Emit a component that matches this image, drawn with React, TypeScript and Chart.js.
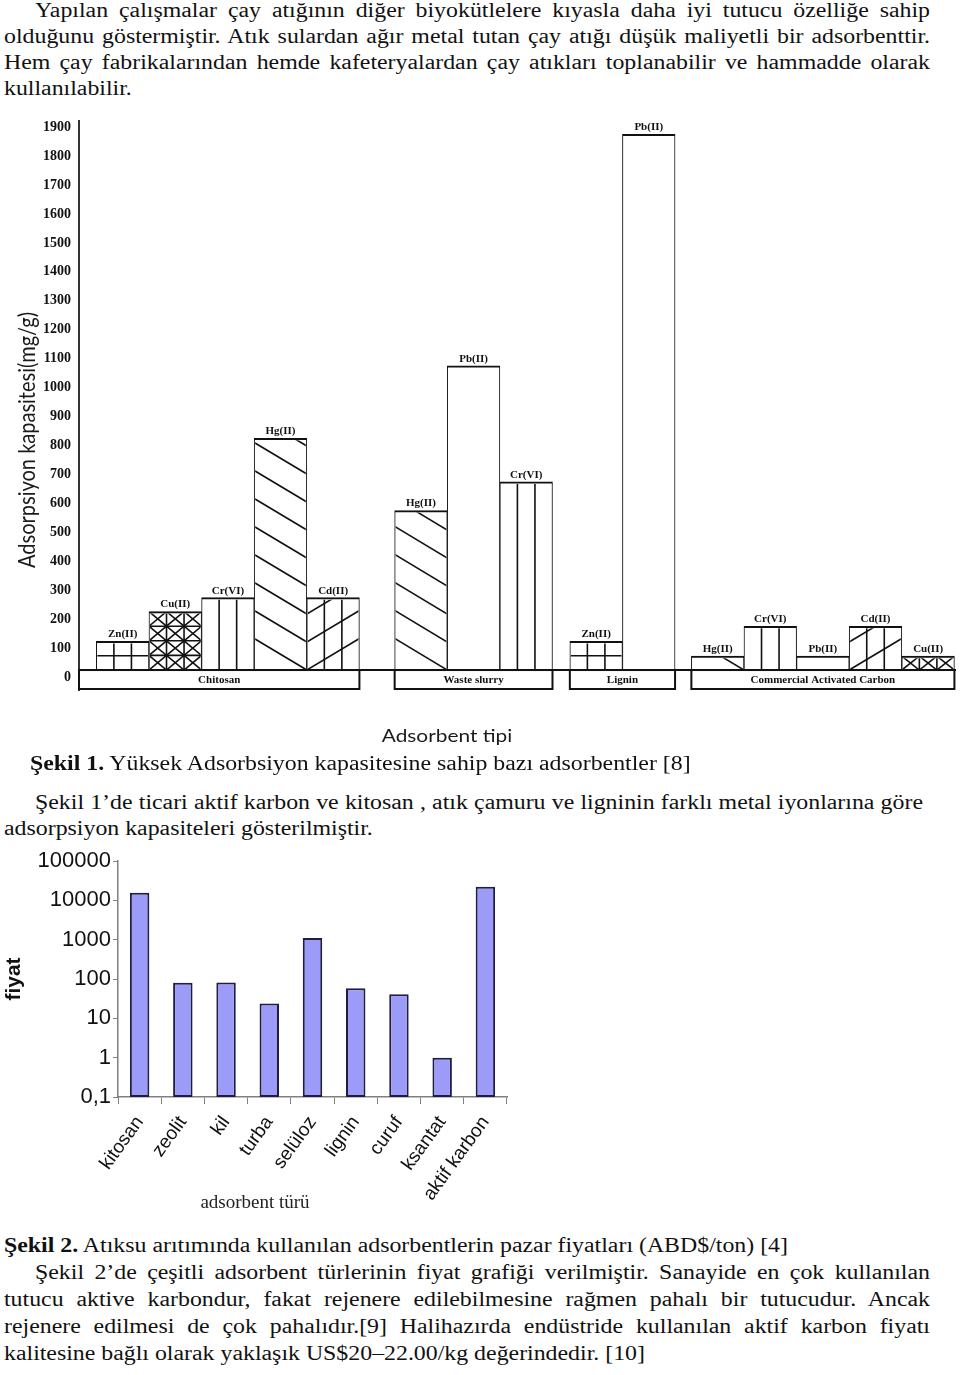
import React, { useEffect, useRef } from 'react';
import { Chart, registerables } from 'chart.js';

Chart.register(...registerables);

// ---------- Figure 1 data ----------
const GROUPS = ['Chitosan', 'Waste slurry', 'Lignin', 'Commercial Activated Carbon'];
const CHITOSAN_METALS = ['Zn(II)', 'Cu(II)', 'Cr(VI)', 'Hg(II)', 'Cd(II)'];
const CHITOSAN_VALUES = [123, 226, 274, 825, 274];
const SLURRY_METALS = ['Hg(II)', 'Pb(II)', 'Cr(VI)'];
const SLURRY_VALUES = [575, 1075, 674];
const LIGNIN_METALS = ['Zn(II)', 'Pb(II)'];
const LIGNIN_VALUES = [123, 1875];
const CARBON_METALS = ['Hg(II)', 'Cr(VI)', 'Pb(II)', 'Cd(II)', 'Cu(II)'];
const CARBON_VALUES = [72, 175, 72, 175, 72];
const Y1_TICKS = [0, 100, 200, 300, 400, 500, 600, 700, 800, 900, 1000, 1100, 1200, 1300, 1400, 1500, 1600, 1700, 1800, 1900];
const Y1_TITLE = 'Adsorpsiyon kapasitesi(mg/g)';
const X1_TITLE = 'Adsorbent tipi';

// ---------- Figure 2 data ----------
const ADSORBENTS = ['kitosan', 'zeolit', 'kil', 'turba', 'selüloz', 'lignin', 'curuf', 'ksantat', 'aktif karbon'];
const PRICES = [15500, 80, 82, 24, 1100, 58, 41, 1, 22000];
const Y2_TICKS = [0.1, 1, 10, 100, 1000, 10000, 100000];
const Y2_TICK_LABELS = ['0,1', '1', '10', '100', '1000', '10000', '100000'];
const Y2_TITLE = 'fiyat';
const X2_TITLE = 'adsorbent türü';

// ---------- layout constants (figure 1) ----------
const GROUP_GAPS = [0.33, 0.67, 0.33, 0.31]; // empty space before each group, in bar widths
const BASE_VALUE = 24; // axis value where the group boxes end and bars start
const Y1_MIN = -45;
const Y1_MAX = 1920;

const SERIF = '"Liberation Serif", "Times New Roman", serif';
const SANS = '"Liberation Sans", Arial, sans-serif';
const STRETCH = 1.19;

function drawHatch(ctx: CanvasRenderingContext2D, kind: string, l: number, t: number, r: number, b: number) {
  const w = r - l;
  const h = b - t;
  if (h <= 0) return;
  ctx.save();
  ctx.beginPath();
  ctx.rect(l + 1, t + 2, w - 2, h - 2);
  ctx.clip();
  ctx.strokeStyle = '#111';
  ctx.fillStyle = '#111';
  ctx.lineWidth = 1.6;
  const line = (x1: number, y1: number, x2: number, y2: number) => {
    ctx.beginPath();
    ctx.moveTo(x1, y1);
    ctx.lineTo(x2, y2);
    ctx.stroke();
  };
  const thirds = () => {
    line(l + w / 3, t, l + w / 3, b);
    line(l + (2 * w) / 3, t, l + (2 * w) / 3, b);
  };
  const s = 0.6;
  const d = 28;
  if (kind === 'Zn(II)') {
    thirds();
    const n = Math.max(1, Math.round(h / 14.5));
    for (let k = 1; k < n; k++) line(l, b - (k * h) / n, r, b - (k * h) / n);
  } else if (kind === 'Cu(II)') {
    thirds();
    const n = Math.max(1, Math.round(h / 14.7));
    const ch = h / n;
    for (let k = 1; k < n; k++) line(l, b - k * ch, r, b - k * ch);
    for (let row = 0; row < n; row++) {
      for (let c = 0; c < 3; c++) {
        const x1 = l + (c * w) / 3;
        const x2 = l + ((c + 1) * w) / 3;
        const y1 = b - (row + 1) * ch;
        const y2 = b - row * ch;
        line(x1, y1, x2, y2);
        line(x1, y2, x2, y1);
      }
    }
    for (let k = 1; k < n; k++) {
      for (let c = 1; c < 3; c++) {
        ctx.beginPath();
        ctx.arc(l + (c * w) / 3, b - k * ch, 1.6, 0, Math.PI * 2);
        ctx.fill();
      }
    }
  } else if (kind === 'Cr(VI)') {
    thirds();
  } else if (kind === 'Hg(II)') {
    const n = Math.ceil((h + s * w) / d) + 1;
    for (let k = 0; k <= n; k++) {
      const yEnd = b - k * d;
      line(l, yEnd - s * w, r, yEnd);
    }
  } else if (kind === 'Cd(II)') {
    thirds();
    const n = Math.ceil((h + s * w) / d) + 1;
    for (let k = 0; k <= n; k++) {
      const y0 = b - k * d;
      line(l, y0, r, y0 - s * w);
    }
  }
  ctx.restore();
}

function Figure1() {
  const ref = useRef<HTMLCanvasElement>(null);
  useEffect(() => {
    if (!ref.current) return;
    const groups = [
      { name: GROUPS[0], metals: CHITOSAN_METALS, values: CHITOSAN_VALUES },
      { name: GROUPS[1], metals: SLURRY_METALS, values: SLURRY_VALUES },
      { name: GROUPS[2], metals: LIGNIN_METALS, values: LIGNIN_VALUES },
      { name: GROUPS[3], metals: CARBON_METALS, values: CARBON_VALUES },
    ];
    const bars: { x: number; y: number; metal: string }[] = [];
    const boxes: { name: string; start: number; end: number }[] = [];
    let cursor = 0;
    groups.forEach((g, gi) => {
      cursor += GROUP_GAPS[gi];
      const start = gi === 0 ? 0 : cursor;
      g.metals.forEach((m, i) => {
        bars.push({ x: cursor + 0.5, y: g.values[i], metal: m });
        cursor += 1;
      });
      boxes.push({ name: g.name, start, end: cursor });
    });
    const xMax = cursor + 0.03;

    const decor = {
      id: 'fig1decor',
      afterDatasetsDraw(chart: any) {
        const ctx: CanvasRenderingContext2D = chart.ctx;
        const xs = chart.scales.x;
        const ys = chart.scales.y;
        const area = chart.chartArea;
        const yBase = ys.getPixelForValue(BASE_VALUE);
        const yBot = ys.getPixelForValue(Y1_MIN);
        ctx.save();
        ctx.strokeStyle = '#111';
        ctx.fillStyle = '#111';
        ctx.lineWidth = 2;
        ctx.font = `bold 11px ${SERIF}`;
        ctx.textAlign = 'center';
        ctx.textBaseline = 'middle';
        boxes.forEach((bx) => {
          const x1 = xs.getPixelForValue(bx.start);
          const x2 = xs.getPixelForValue(bx.end);
          ctx.strokeRect(x1, yBase, x2 - x1, yBot - yBase - 1);
          ctx.fillText(bx.name, (x1 + x2) / 2, (yBase + yBot) / 2);
        });
        ctx.beginPath();
        ctx.moveTo(area.left, yBase);
        ctx.lineTo(area.right, yBase);
        ctx.stroke();
        const meta = chart.getDatasetMeta(0);
        meta.data.forEach((el: any, i: number) => {
          const p = el.getProps(['x', 'y', 'base', 'width'], true);
          drawHatch(ctx, bars[i].metal, p.x - p.width / 2, p.y, p.x + p.width / 2, p.base);
          ctx.fillStyle = '#111';
          ctx.font = `bold 11px ${SERIF}`;
          ctx.textAlign = 'center';
          ctx.textBaseline = 'middle';
          ctx.fillText(bars[i].metal, p.x, p.y - 7);
        });
        ctx.restore();
      },
      afterDraw(chart: any) {
        const ctx: CanvasRenderingContext2D = chart.ctx;
        const area = chart.chartArea;
        ctx.save();
        ctx.fillStyle = '#1a1a1a';
        ctx.font = `17.5px Lato, "Open Sans", sans-serif`;
        ctx.textAlign = 'center';
        ctx.textBaseline = 'middle';
        ctx.save();
        ctx.translate(area.left + 368, area.bottom + 46);
        ctx.scale(STRETCH, 1);
        ctx.fillText(X1_TITLE, 0, 0);
        ctx.restore();
        ctx.font = `20px Lato, "Open Sans", sans-serif`;
        ctx.translate(27, area.bottom - 250);
        ctx.scale(STRETCH, 1);
        ctx.rotate(-Math.PI / 2);
        ctx.fillText(Y1_TITLE, 0, 0);
        ctx.restore();
      },
    };

    const chart = new Chart(ref.current, {
      type: 'bar',
      data: {
        datasets: [
          {
            data: bars.map((b) => ({ x: b.x, y: b.y })),
            base: BASE_VALUE,
            backgroundColor: '#ffffff',
            borderColor: '#111111',
            borderWidth: { top: 2, left: 1, right: 1, bottom: 0 },
            borderSkipped: false,
            barPercentage: 1,
            categoryPercentage: 1,
          } as any,
        ],
      },
      options: {
        responsive: false,
        animation: false,
        layout: { padding: { left: 0, right: 4, top: 10, bottom: 65 } },
        plugins: { legend: { display: false }, tooltip: { enabled: false } },
        scales: {
          x: {
            type: 'linear',
            min: 0,
            max: xMax,
            offset: false,
            display: false,
            grid: { offset: false },
            afterBuildTicks: (s: any) => {
              s.ticks = bars.map((b) => ({ value: b.x }));
            },
          },
          y: {
            type: 'linear',
            min: Y1_MIN,
            max: Y1_MAX,
            afterBuildTicks: (s: any) => {
              s.ticks = Y1_TICKS.map((v) => ({ value: v }));
            },
            afterFit: (s: any) => {
              s.width = 79;
            },
            ticks: {
              callback: (v: any) => String(v),
              font: { family: SERIF, size: 14, weight: 'bold' },
              color: '#111',
              padding: 8,
            },
            grid: { display: false, drawTicks: false },
            border: { display: true, color: '#333', width: 2 },
          },
        },
      } as any,
      plugins: [decor],
    });
    return () => chart.destroy();
  }, []);
  return <canvas ref={ref} width={960} height={650} style={{ position: 'absolute', left: 0, top: 105, display: 'block' }} />;
}

function Figure2() {
  const ref = useRef<HTMLCanvasElement>(null);
  useEffect(() => {
    if (!ref.current) return;
    const decor = {
      id: 'fig2decor',
      afterDraw(chart: any) {
        const ctx: CanvasRenderingContext2D = chart.ctx;
        const area = chart.chartArea;
        ctx.save();
        ctx.fillStyle = '#222';
        ctx.font = `19px ${SERIF}`;
        ctx.textAlign = 'center';
        ctx.textBaseline = 'middle';
        ctx.fillText(X2_TITLE, area.left + 137, area.bottom + 106);
        ctx.restore();
      },
    };
    const chart = new Chart(ref.current, {
      type: 'bar',
      data: {
        labels: ADSORBENTS,
        datasets: [
          {
            data: PRICES,
            backgroundColor: '#9c9cf8',
            borderColor: '#1e1e44',
            borderWidth: 2,
            borderSkipped: false,
            barPercentage: 0.45,
            categoryPercentage: 1,
          } as any,
        ],
      },
      options: {
        responsive: false,
        animation: false,
        layout: { padding: { left: 0, right: 93, top: 16, bottom: 0 } },
        plugins: { legend: { display: false }, tooltip: { enabled: false } },
        scales: {
          x: {
            type: 'category',
            afterFit: (s: any) => {
              s.height = 128;
            },
            ticks: {
              font: { family: SANS, size: 19 },
              color: '#111',
              minRotation: 54,
              maxRotation: 54,
              autoSkip: false,
              padding: 8,
            },
            grid: { display: true, drawOnChartArea: false, drawTicks: true, tickLength: 7, color: '#808080', offset: true },
            border: { display: true, color: '#808080', width: 1.5 },
          },
          y: {
            type: 'logarithmic',
            min: 0.1,
            max: 100000,
            afterBuildTicks: (s: any) => {
              s.ticks = Y2_TICKS.map((v) => ({ value: v }));
            },
            afterFit: (s: any) => {
              s.width = 118;
            },
            ticks: {
              callback: (v: any) => Y2_TICK_LABELS[Y2_TICKS.indexOf(Number(v))] ?? '',
              font: { family: SANS, size: 22 },
              color: '#111',
              padding: 2,
            },
            title: {
              display: true,
              text: Y2_TITLE,
              font: { family: SANS, size: 21, weight: 'bold' },
              color: '#111',
              padding: { top: 2, bottom: 0 },
            },
            grid: { display: true, drawOnChartArea: false, drawTicks: true, tickLength: 5, color: '#808080' },
            border: { display: true, color: '#808080', width: 1.5 },
          },
        },
      } as any,
      plugins: [decor],
    });
    return () => chart.destroy();
  }, []);
  return <canvas ref={ref} width={600} height={380} style={{ position: 'absolute', left: 0, top: 845, display: 'block' }} />;
}

const SX = 1.163;
const FONT_SIZE = 20.5;

function TextLine(props: { left: number; baseline: number; right?: number; children: React.ReactNode }) {
  const { left, baseline, right, children } = props;
  const justify = right !== undefined;
  const style: React.CSSProperties = {
    position: 'absolute',
    left,
    top: baseline - 19.2,
    fontFamily: SERIF,
    fontSize: FONT_SIZE,
    lineHeight: '24px',
    color: '#111',
    transform: `scaleX(${SX})`,
    transformOrigin: 'left top',
    whiteSpace: justify ? 'normal' : 'nowrap',
  };
  if (justify) {
    style.width = (right! - left) / SX;
    style.textAlign = 'justify';
    (style as any).textAlignLast = 'justify';
  }
  return <div style={style}>{children}</div>;
}

export default function App() {
  return (
    <div style={{ position: 'absolute', left: 0, top: 0, width: 960, height: 1375, background: '#fff', overflow: 'hidden' }}>
      <TextLine left={35} baseline={17} right={930}>Yapılan çalışmalar çay atığının diğer biyokütlelere kıyasla daha iyi tutucu özelliğe sahip</TextLine>
      <TextLine left={4} baseline={43} right={930}>olduğunu göstermiştir. Atık sulardan ağır metal tutan çay atığı düşük maliyetli bir adsorbenttir.</TextLine>
      <TextLine left={4} baseline={69} right={930}>Hem çay fabrikalarından hemde kafeteryalardan çay atıkları toplanabilir ve hammadde olarak</TextLine>
      <TextLine left={4} baseline={95}>kullanılabilir.</TextLine>
      <Figure1 />
      <TextLine left={30} baseline={770}><b>Şekil 1.</b> Yüksek Adsorbsiyon kapasitesine sahip bazı adsorbentler [8]</TextLine>
      <TextLine left={35} baseline={809} right={923}>Şekil 1’de ticari aktif karbon ve kitosan , atık çamuru ve ligninin farklı metal iyonlarına göre</TextLine>
      <TextLine left={4} baseline={835}>adsorpsiyon kapasiteleri gösterilmiştir.</TextLine>
      <Figure2 />
      <TextLine left={4} baseline={1252}><b>Şekil 2.</b> Atıksu arıtımında kullanılan adsorbentlerin pazar fiyatları (ABD$/ton) [4]</TextLine>
      <TextLine left={35} baseline={1279} right={930}>Şekil 2’de çeşitli adsorbent türlerinin fiyat grafiği verilmiştir. Sanayide en çok kullanılan</TextLine>
      <TextLine left={4} baseline={1306} right={930}>tutucu aktive karbondur, fakat rejenere edilebilmesine rağmen pahalı bir tutucudur. Ancak</TextLine>
      <TextLine left={4} baseline={1333} right={930}>rejenere edilmesi de çok pahalıdır.[9] Halihazırda endüstride kullanılan aktif karbon fiyatı</TextLine>
      <TextLine left={4} baseline={1360}>kalitesine bağlı olarak yaklaşık US$20–22.00/kg değerindedir. [10]</TextLine>
    </div>
  );
}
